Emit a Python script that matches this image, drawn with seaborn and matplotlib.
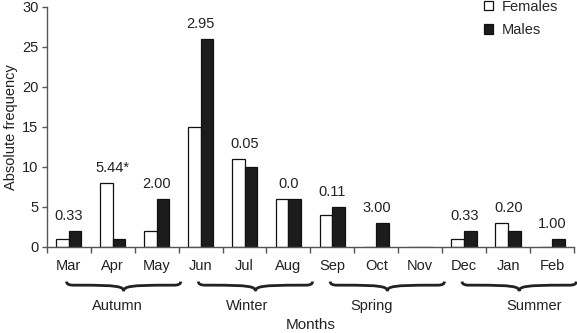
import pandas as pd
import matplotlib.pyplot as plt
import matplotlib.transforms as mtransforms
from matplotlib.path import Path
from matplotlib.patches import PathPatch
import seaborn as sns

months = ['Mar', 'Apr', 'May', 'Jun', 'Jul', 'Aug', 'Sep', 'Oct', 'Nov', 'Dec', 'Jan', 'Feb']
females = [1, 8, 2, 15, 11, 6, 4, 0, 0, 1, 3, 0]
males = [2, 1, 6, 26, 10, 6, 5, 3, 0, 2, 2, 1]
stats = ['0.33', '5.44*', '2.00', '2.95', '0.05', '0.0', '0.11', '3.00', '', '0.33', '0.20', '1.00']
seasons = ['Autumn', 'Winter', 'Spring', 'Summer']
season_months = [[0, 1, 2], [3, 4, 5], [6, 7, 8], [9, 10, 11]]
season_label_x = [1.1, 4.05, 6.9, 10.6]

sns.set_style('ticks')
plt.rcParams['font.family'] = ['Liberation Sans', 'DejaVu Sans']

df = pd.DataFrame({
    'Month': months * 2,
    'Count': females + males,
    'Sex': ['Females'] * len(months) + ['Males'] * len(months),
})

fig = plt.figure(figsize=(5.77, 3.33), dpi=100)
ax = fig.add_axes([0.081, 0.259, 0.914, 0.721])

sns.barplot(data=df, x='Month', y='Count', hue='Sex', order=months,
            palette={'Females': 'white', 'Males': '#1c1c1c'},
            edgecolor='#111111', linewidth=0.9, width=0.58, ax=ax)

ax.set_xlim(-0.5, len(months) - 0.5)
ax.set_ylim(0, 30)
ax.set_yticks(range(0, 31, 5))
ax.set_xticks(range(len(months)))
ax.set_xticklabels(months)
ax.set_xticks([i - 0.5 for i in range(len(months) + 1)], minor=True)
ax.tick_params(axis='x', which='major', length=0, pad=9, labelsize=10.5, colors='#222222')
ax.tick_params(axis='x', which='minor', length=4, width=1, color='#555555')
ax.tick_params(axis='y', length=3.5, width=1, pad=2.5, color='#555555', labelsize=10.5,
               labelcolor='#222222')
for s in ['top', 'right']:
    ax.spines[s].set_visible(False)
for s in ['left', 'bottom']:
    ax.spines[s].set_color('#555555')
    ax.spines[s].set_linewidth(1)

ax.set_ylabel('Absolute frequency', fontsize=10.5, color='#222222', labelpad=3)
ax.set_xlabel('Months', fontsize=11, color='#222222')
ax.xaxis.set_label_coords(0.5, -0.295)

for i, txt in enumerate(stats):
    if txt:
        top = max(females[i], males[i])
        ax.annotate(txt, (i, top), xytext=(0, 7.5), textcoords='offset points',
                    ha='center', va='baseline', fontsize=10.5, color='#222222')

# season braces under the month labels
trans = mtransforms.blended_transform_factory(ax.transData, ax.transAxes)
y0, y1, y2 = -0.145, -0.16, -0.185
for name, idx, lx in zip(seasons, season_months, season_label_x):
    a = idx[0] - 0.05
    b = idx[-1] + 0.55
    m = (a + b) / 2
    verts = [(a, y0), (a, y1), (a + 0.15, y1), (a + 0.3, y1),
             (m - 0.15, y1), (m, y1 - 0.005), (m, y2),
             (m, y1 - 0.005), (m + 0.15, y1), (b - 0.3, y1),
             (b - 0.15, y1), (b, y1), (b, y0)]
    codes = [Path.MOVETO, Path.CURVE3, Path.CURVE3, Path.LINETO,
             Path.CURVE4, Path.CURVE4, Path.CURVE4,
             Path.CURVE4, Path.CURVE4, Path.CURVE4,
             Path.LINETO, Path.CURVE3, Path.CURVE3]
    patch = PathPatch(Path(verts, codes), transform=trans, fill=False,
                      lw=2, edgecolor='#222222', clip_on=False)
    ax.add_patch(patch)
    ax.text(lx, -0.245, name, transform=trans, ha='center', va='center',
            fontsize=10.5, color='#222222')

handles, labels = ax.get_legend_handles_labels()
ax.legend(handles, labels, loc='upper left', bbox_to_anchor=(0.815, 1.06),
          frameon=False, fontsize=10.5, handlelength=0.6, handleheight=0.6,
          handletextpad=0.6, labelspacing=0.65, borderpad=0)

fig.savefig('out.png', dpi=100)
plt.close()
